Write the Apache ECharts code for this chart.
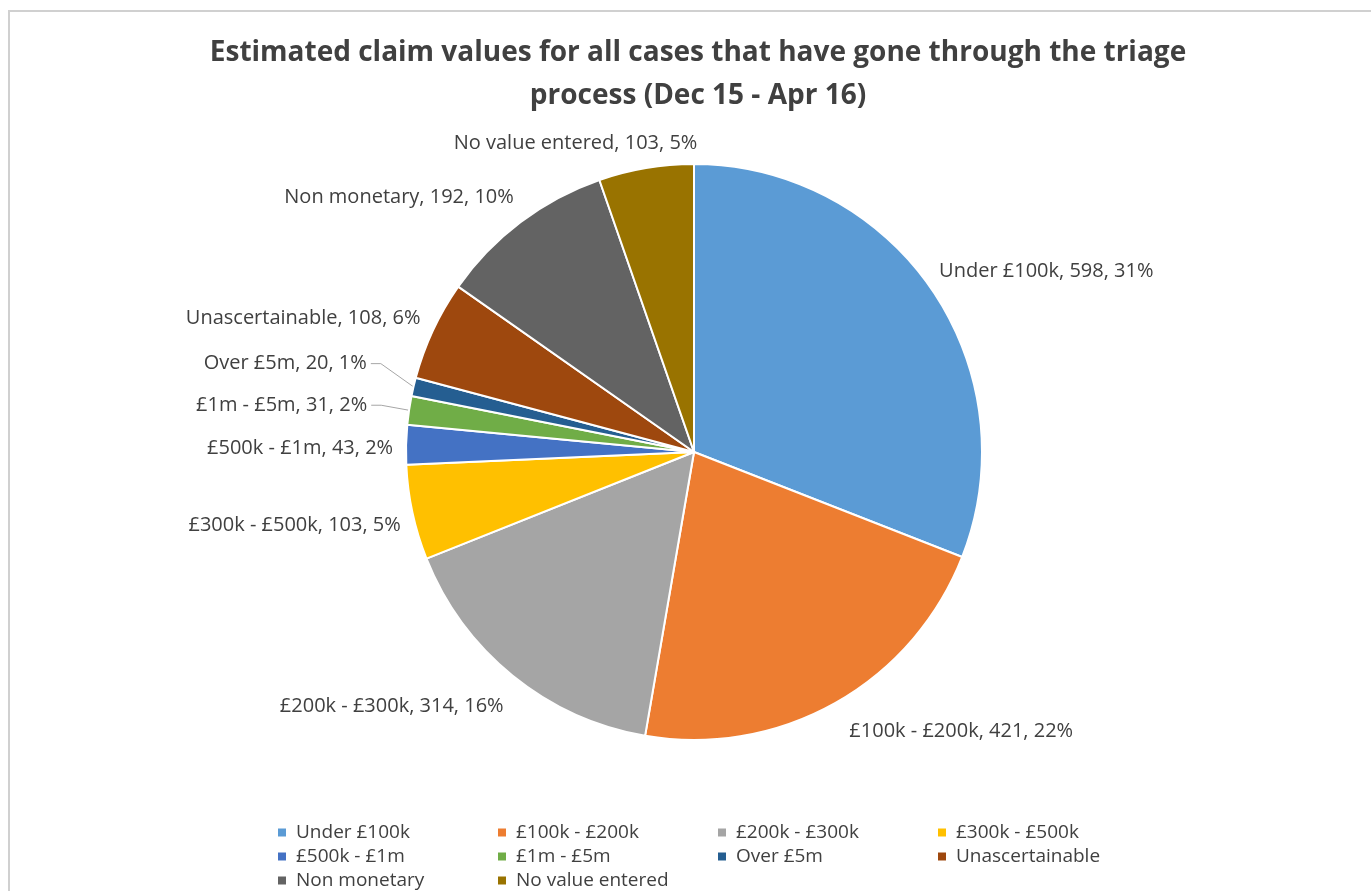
<!DOCTYPE html>
<html>
<head>
<meta charset="utf-8">
<script src="https://cdn.jsdelivr.net/npm/echarts@6/dist/echarts.min.js"></script>
<style>
  html, body { margin: 0; padding: 0; background: #fff; }
  #frame { position: absolute; left: 8px; top: 10px; width: 1400px; height: 900px;
           border-top: 2px solid #d0d0d0; border-left: 2px solid #d0d0d0; }
  #chart { position: absolute; left: 0; top: 0; width: 1371px; height: 891px; }
</style>
</head>
<body>
<div id="frame"></div>
<div id="chart"></div>
<script>
  const categories = ['Under £100k', '£100k - £200k', '£200k - £300k', '£300k - £500k',
    '£500k - £1m', '£1m - £5m', 'Over £5m', 'Unascertainable', 'Non monetary', 'No value entered']
  const counts = [598, 421, 314, 103, 43, 31, 20, 108, 192, 103]
  const percents = [31, 22, 16, 5, 2, 2, 1, 6, 10, 5]
  const colors = ['#5B9BD5', '#ED7D31', '#A5A5A5', '#FFC000', '#4472C4',
    '#70AD47', '#255E91', '#9E480E', '#636363', '#997300']
  // small slices get a leader line
  const withLine = ['£1m - £5m', 'Over £5m']
  // label nudges (excel "best fit" places them a bit differently)
  const nudgeX = [-17, -5, 12, 15, 14, 5, 0, 13, 14, 65]
  const nudgeY = [-9, 15, 18, 9, 4, -3, -20, -5, -12, -9]

  let chart = echarts.init(document.getElementById('chart'))
  chart.setOption({
    color: colors,
    title: {
      text: 'Estimated claim values for all cases that have gone through the triage\nprocess (Dec 15 - Apr 16)',
      left: 693,
      top: 27,
      textAlign: 'center',
      textStyle: {
        fontFamily: 'Open Sans',
        fontWeight: 'bold',
        fontSize: 28,
        lineHeight: 43,
        color: '#404040'
      }
    },
    legend: {
      left: 276,
      top: 823,
      width: 920,
      padding: 0,
      itemWidth: 10,
      itemHeight: 10,
      itemGap: 5,
      icon: 'rect',
      data: categories,
      textStyle: {
        fontFamily: 'Open Sans',
        fontSize: 19,
        color: '#404040',
        width: 195,
        lineHeight: 18,
        padding: [0, 0, 0, 4]
      }
    },
    series: [{
      type: 'pie',
      center: [694, 452],
      radius: 288,
      startAngle: 90,
      clockwise: true,
      avoidLabelOverlap: false,
      itemStyle: { borderColor: '#fff', borderWidth: 2 },
      label: {
        position: 'outside',
        fontFamily: 'Open Sans',
        fontSize: 20,
        color: '#404040',
        formatter: p => p.name + ', ' + p.value + ', ' + percents[p.dataIndex] + '%'
      },
      labelLine: { show: false, length: 16, length2: 6 },
      labelLayout: function (p) {
        let i = p.dataIndex
        let out = { dx: nudgeX[i], dy: nudgeY[i] }
        if (withLine.includes(categories[i]) && p.labelLinePoints) {
          let edge = p.labelLinePoints[0]
          let r = p.labelRect
          let endX = r.x + r.width + nudgeX[i] + 4
          let midY = r.y + r.height / 2 + nudgeY[i]
          out.labelLinePoints = [edge, [endX + 10, midY], [endX, midY]]
        }
        return out
      },
      data: categories.map((c, i) => ({
        name: c,
        value: counts[i],
        labelLine: withLine.includes(c)
          ? { show: true, length: 14, length2: 28, lineStyle: { color: '#a6a6a6', width: 1 } }
          : { show: false }
      }))
    }]
  })
</script>
</body>
</html>
